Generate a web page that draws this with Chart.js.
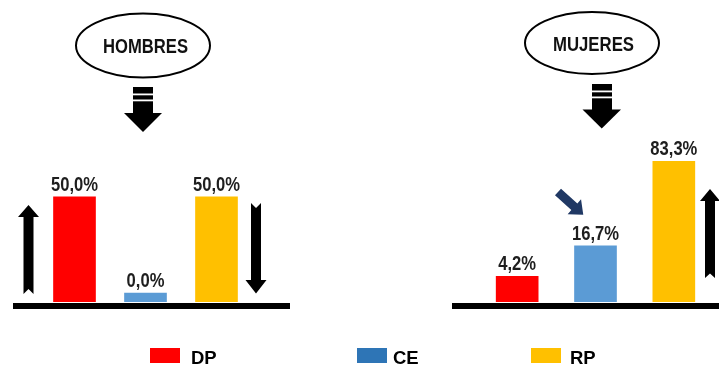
<!DOCTYPE html>
<html>
<head>
<meta charset="utf-8">
<script src="https://cdn.jsdelivr.net/npm/chart.js@4/dist/chart.umd.min.js"></script>
<style>
  html, body { margin: 0; padding: 0; background: #fff; }
  #root { position: relative; width: 719px; height: 366px; overflow: hidden; background: #fff; }
  .panel { position: absolute; top: 0; height: 320px; }
  #overlay { position: absolute; left: 0; top: 0; pointer-events: none; }
</style>
</head>
<body>
<div id="root">
  <div class="panel" style="left:13px;width:277px;"><canvas id="cH" width="277" height="320"></canvas></div>
  <div class="panel" style="left:452px;width:267px;"><canvas id="cM" width="267" height="320"></canvas></div>
  <svg id="overlay" width="719" height="366" xmlns="http://www.w3.org/2000/svg"></svg>
</div>
<script>
// ---- data ----
const groups = ['HOMBRES', 'MUJERES'];
const categories = ['DP', 'CE', 'RP'];
const hombres = [50.0, 0.0, 50.0];
const mujeres = [4.2, 16.7, 83.3];

// ---- styles ----
const barColors = ['#FF0000', '#5B9BD5', '#FFC000'];
const legendColors = ['#FF0000', '#2E75B6', '#FFC000'];
const FONT = '"Liberation Sans", Arial, Helvetica, sans-serif';
const EXPONENT = 0.57;

// power scale (the picture's bars are not linear in the values)
class PowerScale extends Chart.LinearScale {
  getPixelForValue(value) {
    const r = (value - this.min) / (this.max - this.min);
    return this.getPixelForDecimal(Math.pow(Math.max(r, 0), EXPONENT));
  }
  getValueForPixel(pixel) {
    return this.min + Math.pow(this.getDecimalForPixel(pixel), 1 / EXPONENT) * (this.max - this.min);
  }
}
PowerScale.id = 'power';
PowerScale.defaults = Chart.LinearScale.defaults;
Chart.register(PowerScale);

const fmt = v => v.toFixed(1).replace('.', ',') + '%';

const decor = {
  id: 'decor',
  afterDatasetsDraw(chart) {
    const ctx = chart.ctx;
    const y0 = chart.scales.y.getPixelForValue(0);
    ctx.save();
    ctx.fillStyle = '#000';
    ctx.fillRect(0, y0 + 1, chart.width, 6);
    const ds = chart.data.datasets[0];
    chart.getDatasetMeta(0).data.forEach((el, i) => {
      ctx.save();
      ctx.font = 'bold 20px ' + FONT;
      ctx.textAlign = 'center';
      ctx.textBaseline = 'alphabetic';
      ctx.fillStyle = '#1e1e1e';
      ctx.translate(el.x, el.y - 6);
      ctx.scale(0.83, 1);
      ctx.fillText(fmt(ds.data[i]), 0, 0);
      ctx.restore();
    });
    ctx.restore();
  }
};

function makeChart(id, values, padL, padR) {
  return new Chart(document.getElementById(id), {
    type: 'bar',
    data: {
      labels: categories,
      datasets: [{
        data: values,
        backgroundColor: barColors,
        barThickness: 42,
        minBarLength: 9,
        borderWidth: 0
      }]
    },
    options: {
      responsive: false,
      animation: false,
      devicePixelRatio: 1,
      layout: { padding: { left: padL, right: padR, top: 146, bottom: 18 } },
      plugins: { legend: { display: false }, tooltip: { enabled: false }, title: { display: false } },
      scales: {
        x: { display: false, offset: true },
        y: { type: 'power', display: false, min: 0, max: 100 }
      }
    },
    plugins: [decor]
  });
}
makeChart('cH', hombres, 26, 38);
makeChart('cM', mujeres, 26, 6);

// ---- decorations (SVG) ----
const NS = 'http://www.w3.org/2000/svg';
const svg = document.getElementById('overlay');
function el(tag, attrs, text) {
  const e = document.createElementNS(NS, tag);
  for (const k in attrs) e.setAttribute(k, attrs[k]);
  if (text !== undefined) e.textContent = text;
  svg.appendChild(e);
  return e;
}
// group ellipses
const bubbles = [
  { cx: 143, cy: 45.5, rx: 67, ry: 32, tx: 145.5, ty: 53, tl: 85 },
  { cx: 592, cy: 43, rx: 67, ry: 31, tx: 593.5, ty: 51, tl: 81 }
];
bubbles.forEach((b, i) => {
  el('ellipse', { cx: b.cx, cy: b.cy, rx: b.rx, ry: b.ry, fill: '#fff', stroke: '#000', 'stroke-width': 2 });
  el('text', { x: b.tx, y: b.ty, 'text-anchor': 'middle', 'font-family': FONT, 'font-weight': 'bold',
    'font-size': 20, fill: '#111', textLength: b.tl, lengthAdjust: 'spacingAndGlyphs' }, groups[i]);
});
// striped block arrows
function blockArrow(x, y, w, stemH, headL, headR, tipY) {
  el('rect', { x: x, y: y, width: w, height: stemH + 1, fill: '#000' });
  el('rect', { x: x, y: y + 6.5, width: w, height: 1.8, fill: '#fff' });
  el('rect', { x: x, y: y + 12.5, width: w, height: 1.8, fill: '#fff' });
  el('polygon', { points: `${headL},${y + stemH} ${headR},${y + stemH} ${(headL + headR) / 2},${tipY}`, fill: '#000' });
}
blockArrow(133, 87, 20, 26, 124, 162, 132);
blockArrow(592, 84, 20, 25.5, 582.5, 621, 128.5);
// vertical arrows
el('polygon', { points: '28.5,205 39,217 33.5,217 33.5,294 28.5,289 23.5,294 23.5,217 18,217', fill: '#000' });
el('polygon', { points: '251,203 256,208 261,203 261,280 266.5,280 256,293.5 245.5,280 251,280', fill: '#000' });
el('polygon', { points: '710,189 720,201 715,201 715,278 710,273.5 705,278 705,201 700,201', fill: '#000' });
// small navy arrow
const g = document.createElementNS(NS, 'g');
g.setAttribute('transform', 'translate(558,192) rotate(42)');
svg.appendChild(g);
const pa = document.createElementNS(NS, 'polygon');
pa.setAttribute('points', '0,-4.5 22,-4.5 22,-10 34,0 22,10 22,4.5 0,4.5');
pa.setAttribute('fill', '#203864');
g.appendChild(pa);
// legend
const legendX = [150, 357, 531];
const legendTextX = [191, 393, 570];
categories.forEach((c, i) => {
  el('rect', { x: legendX[i], y: 348, width: 30, height: 15, fill: legendColors[i] });
  el('text', { x: legendTextX[i], y: 363.5, 'font-family': FONT, 'font-weight': 'bold',
    'font-size': 18.5, fill: '#000' }, c);
});
</script>
</body>
</html>
